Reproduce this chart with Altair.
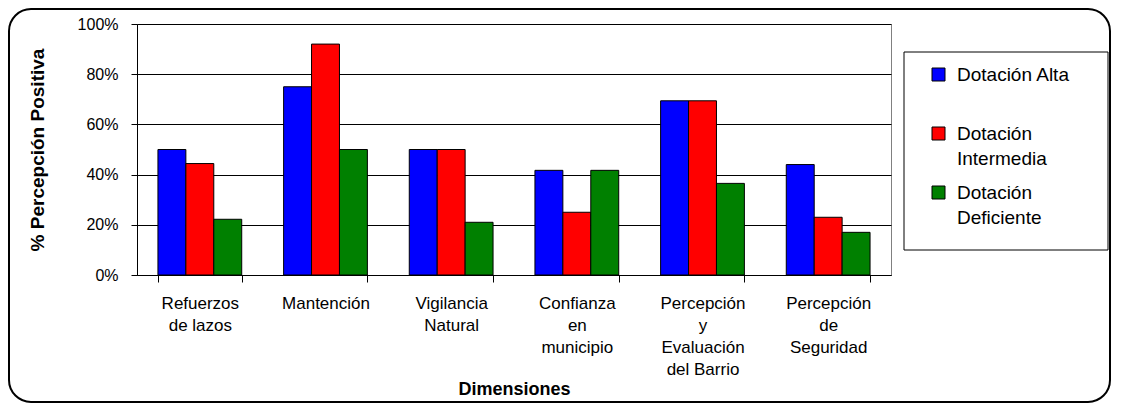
import altair as alt
import pandas as pd

# ---- data ----
categories = [
    "Refuerzos\nde lazos",
    "Mantención",
    "Vigilancia\nNatural",
    "Confianza\nen\nmunicipio",
    "Percepción\ny\nEvaluación\ndel Barrio",
    "Percepción\nde\nSeguridad",
]
series = ["Dotación Alta", "Dotación Intermedia", "Dotación Deficiente"]
alta = [0.50, 0.75, 0.50, 0.417, 0.694, 0.44]
intermedia = [0.444, 0.92, 0.50, 0.25, 0.694, 0.23]
deficiente = [0.222, 0.50, 0.21, 0.417, 0.365, 0.17]
colors = ["#0000FF", "#FF0000", "#008000"]
y_ticks = [0, 0.2, 0.4, 0.6, 0.8, 1.0]

rows = []
for s, vals in zip(series, [alta, intermedia, deficiente]):
    for c, v in zip(categories, vals):
        rows.append({"Dimension": c, "Serie": s, "Valor": v})
df = pd.DataFrame(rows)

FONT = "Liberation Sans"
W, H = 754, 251

bars = alt.Chart(df).mark_bar(stroke="black", strokeWidth=1).encode(
    x=alt.X(
        "Dimension:N",
        sort=categories,
        scale=alt.Scale(paddingInner=1 / 3, paddingOuter=1 / 6),
        axis=alt.Axis(
            title="Dimensiones",
            labelExpr="split(datum.label, '\\n')",
            labelAngle=0,
            labelFontSize=17,
            labelLineHeight=22,
            labelPadding=13,
            labelColor="black",
            labelFont=FONT,
            tickBand="extent",
            tickSize=7,
            tickColor="black",
            domainColor="black",
            titleFontSize=18,
            titleFont=FONT,
            titleFontWeight="bold",
            titleColor="black",
            titleX=W / 2,
            titleY=114,
            titleAlign="center",
            titleBaseline="middle",
        ),
    ),
    xOffset=alt.XOffset("Serie:N", sort=series,
                        scale=alt.Scale(paddingInner=0, paddingOuter=0)),
    y=alt.Y(
        "Valor:Q",
        scale=alt.Scale(domain=[0, 1]),
        axis=alt.Axis(
            values=y_ticks,
            format=".0%",
            title="% Percepción Positiva",
            grid=True,
            gridColor="black",
            gridWidth=1,
            tickSize=6,
            tickColor="black",
            domainColor="black",
            labelPadding=13,
            labelFontSize=16,
            labelFont=FONT,
            labelColor="black",
            titleFontSize=19,
            titleFont=FONT,
            titleFontWeight="bold",
            titleColor="black",
            titleX=-100,
            titleY=H / 2,
            titleAngle=270,
            titleAlign="center",
            titleBaseline="middle",
        ),
    ),
    color=alt.Color(
        "Serie:N",
        sort=series,
        scale=alt.Scale(domain=series, range=colors),
        legend=alt.Legend(
            title=None,
            orient="none",
            legendX=792,
            legendY=41,
            padding=0,
            rowPadding=14,
            symbolType="square",
            symbolSize=169,
            symbolStrokeColor="black",
            symbolStrokeWidth=1,
            labelFontSize=19,
            labelFont=FONT,
            labelColor="black",
            labelOffset=9,
            labelLimit=400,
            labelBaseline="middle",
            labelExpr="datum.label == 'Dotación Alta' ? [datum.label, ''] : split(datum.label, ' ')",
        ),
    ),
)

one = pd.DataFrame({"k": [0]})
frame = alt.Chart(one).mark_rect(
    filled=False, stroke="black", strokeWidth=2, cornerRadius=22
).encode(x=alt.value(-128), x2=alt.value(973), y=alt.value(-15), y2=alt.value(378))

legend_box = alt.Chart(one).mark_rect(
    fill="white", stroke="black", strokeWidth=1
).encode(x=alt.value(767), x2=alt.value(971), y=alt.value(28), y2=alt.value(226))

chart = (
    alt.layer(frame, legend_box, bars)
    .properties(
        width=W,
        height=H,
        autosize=alt.AutoSizeParams(type="none"),
        padding={"left": 129, "top": 16, "right": 221, "bottom": 129},
        background="white",
    )
    .configure(style={"guide-label": {"lineHeight": 25}})
    .configure_view(stroke="#808080", strokeWidth=1)
)

chart.save("out.html", embed_options={"renderer": "svg", "actions": False})
